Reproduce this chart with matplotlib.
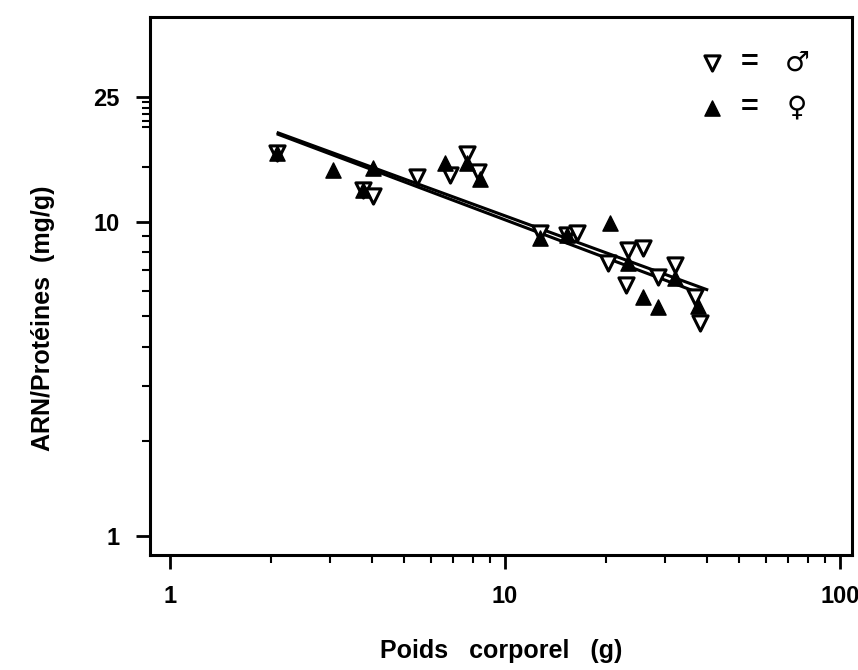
import numpy as np
import matplotlib.pyplot as plt
from matplotlib.ticker import FixedLocator, NullFormatter

# males (open triangles pointing down)
male_weight = [2.09, 3.77, 4.04, 5.46, 6.85, 7.70, 8.31, 12.7, 15.3, 16.4,
               20.3, 23.3, 25.8, 23.0, 28.6, 32.2, 36.9, 38.2]
male_ratio = [16.6, 12.6, 12.1, 13.9, 14.1, 16.5, 14.4, 9.2, 9.1, 9.2,
              7.40, 8.15, 8.27, 6.30, 6.68, 7.30, 5.77, 4.77]

# females (filled triangles)
female_weight = [2.09, 3.07, 4.04, 3.77, 6.62, 7.70, 8.42, 12.7, 15.3,
                 20.6, 23.3, 25.8, 32.2, 28.6, 37.7]
female_ratio = [16.6, 14.6, 14.8, 12.6, 15.4, 15.4, 13.7, 8.9, 9.1,
                9.93, 7.40, 5.77, 6.64, 5.36, 5.40]

# regression lines  y = a * (x / 2.1) ** b
male_fit = {'a': 19.2, 'b': -0.390, 'xmin': 2.1, 'xmax': 40}
female_fit = {'a': 19.0, 'b': -0.402, 'xmin': 2.1, 'xmax': 38}

plt.rcParams['font.family'] = ['Liberation Sans', 'DejaVu Sans']

fig = plt.figure(figsize=(8.58, 6.70), dpi=100)
ax = fig.add_axes([0.175, 0.172, 0.818, 0.803])

for fit in [male_fit, female_fit]:
    xs = np.linspace(fit['xmin'], fit['xmax'], 50)
    ax.plot(xs, fit['a'] * (xs / 2.1) ** fit['b'], color='black', lw=2.2, zorder=2)

ax.scatter(male_weight, male_ratio, marker='v', s=120, facecolor='white',
           edgecolor='black', linewidth=2.2, zorder=3)
ax.scatter(female_weight, female_ratio, marker='^', s=120, facecolor='black',
           edgecolor='black', linewidth=1, zorder=4)

ax.set_xscale('log')
ax.set_yscale('log')
ax.set_xlim(0.871, 108.6)
ax.set_ylim(0.870, 45.0)

ax.set_xticks([1, 10, 100])
ax.set_xticklabels(['1', '10', '100'])
ax.set_yticks([1, 10, 25])
ax.set_yticklabels(['1', '10', '25'])
ax.xaxis.set_minor_locator(FixedLocator([2, 3, 4, 5, 6, 7, 8, 9, 20, 30, 40, 50, 60, 70, 80, 90]))
ax.yaxis.set_minor_locator(FixedLocator([2, 3, 4, 5, 6, 7, 8, 9, 15, 20, 21, 22, 23, 24]))
ax.xaxis.set_minor_formatter(NullFormatter())
ax.yaxis.set_minor_formatter(NullFormatter())
ax.tick_params(which='major', direction='out', length=10, width=2, labelsize=17, pad=12)
ax.tick_params(which='minor', direction='out', length=6, width=1.5)
for lab in ax.get_xticklabels() + ax.get_yticklabels():
    lab.set_fontweight('bold')

for side in ax.spines.values():
    side.set_linewidth(2.2)

ax.set_xlabel('Poids   corporel   (g)', fontsize=18, fontweight='bold', labelpad=22)
ax.set_ylabel('ARN/Protéines  (mg/g)', fontsize=18, fontweight='bold', labelpad=16)
ax.yaxis.set_label_coords(-0.135, 0.44)

# legend in the corner
ax.scatter([41.5], [32.1], marker='v', s=120, facecolor='white', edgecolor='black', linewidth=2.2)
ax.scatter([41.5], [23.1], marker='^', s=120, facecolor='black', edgecolor='black')
ax.text(53.9, 32.1, '=', fontsize=22, fontweight='bold', ha='center', va='center')
ax.text(53.9, 23.1, '=', fontsize=22, fontweight='bold', ha='center', va='center')
ax.text(74.4, 32.1, '♂', fontsize=20, fontweight='bold', ha='center', va='center', family=['DejaVu Sans'])
ax.text(74.4, 23.1, '♀', fontsize=20, fontweight='bold', ha='center', va='center', family=['DejaVu Sans'])

fig.savefig('out.png', dpi=100)
